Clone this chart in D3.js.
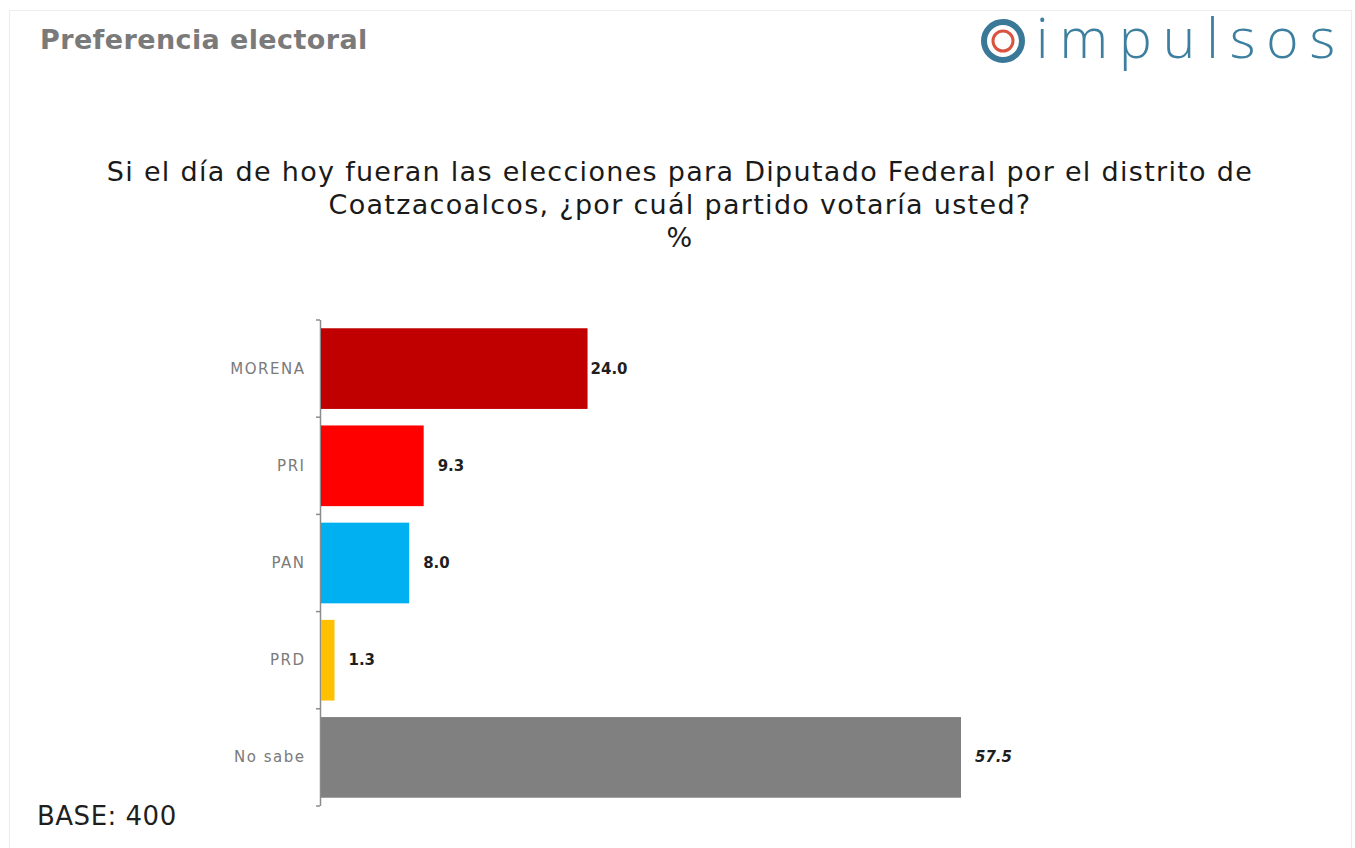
<!DOCTYPE html>
<html>
<head>
<meta charset="utf-8">
<script src="https://cdn.jsdelivr.net/npm/d3@7"></script>
<style>
  body { margin: 0; background: #ffffff; }
  svg { display: block; }
</style>
</head>
<body>
<div id="chart"></div>
<script>
// Data
const parties = ["MORENA", "PRI", "PAN", "PRD", "No sabe"];
const shares = [24.0, 9.3, 8.0, 1.3, 57.5];
const barColors = ["#c00000", "#ff0000", "#00b0f0", "#ffc000", "#808080"];
const questionLines = [
    "Si el día de hoy fueran las elecciones para Diputado Federal por el distrito de",
    "Coatzacoalcos, ¿por cuál partido votaría usted?",
    "%"
];

const data = parties.map((p, i) => ({ party: p, value: shares[i], color: barColors[i] }));

const width = 1355, height = 848;
const font = "'DejaVu Sans', sans-serif";

const svg = d3.select("#chart")
    .append("svg")
        .attr("width", width)
        .attr("height", height);

// slide frame
svg.append("rect")
    .attr("x", 9.5)
    .attr("y", 10.5)
    .attr("width", 1342)
    .attr("height", 850)
    .attr("fill", "#ffffff")
    .attr("stroke", "#ececec");

// header
svg.append("text")
    .text("Preferencia electoral")
    .attr("x", 40)
    .attr("y", 49)
    .style("font-family", font)
    .style("font-weight", "bold")
    .style("font-size", "27px")
    .style("letter-spacing", "0.4px")
    .style("fill", "#7a7a7a");

// logo
const logo = svg.append("g").attr("transform", "translate(1003, 41)");
logo.append("circle")
    .attr("r", 19)
    .attr("fill", "none")
    .attr("stroke", "#3a7898")
    .attr("stroke-width", 6);
logo.append("circle")
    .attr("r", 10)
    .attr("fill", "none")
    .attr("stroke", "#d9533f")
    .attr("stroke-width", 3);
svg.append("text")
    .text("impulsos")
    .attr("x", 1036)
    .attr("y", 58)
    .style("font-family", "'Open Sans', sans-serif")
    .style("font-weight", 300)
    .style("font-size", "55px")
    .style("letter-spacing", "11px")
    .style("fill", "#3d7f9f");

// question
svg.append("g")
    .selectAll("text")
    .data(questionLines)
    .join("text")
        .text(d => d)
        .attr("x", 680)
        .attr("y", (d, i) => 181 + i * 33)
        .attr("text-anchor", "middle")
        .style("font-family", font)
        .style("font-size", "27px")
        .style("letter-spacing", "1.3px")
        .style("fill", "#1a1a1a");

// scales
const xScale = d3.scaleLinear()
    .domain([0, 57.5])
    .range([320, 961]);

const yScale = d3.scaleBand()
    .domain(parties)
    .range([320, 806])
    .paddingInner(0.17)
    .paddingOuter(0.085);

// axis line with ticks at category boundaries
svg.append("line")
    .attr("x1", 320.5)
    .attr("x2", 320.5)
    .attr("y1", 320)
    .attr("y2", 806)
    .attr("stroke", "#8c8c8c")
    .attr("stroke-width", 1.5);

const bounds = parties.map(p => yScale(p) - yScale.step() * yScale.paddingOuter()).concat([806]);
svg.append("g")
    .selectAll("line")
    .data(bounds)
    .join("line")
        .attr("x1", 316)
        .attr("x2", 320)
        .attr("y1", d => d)
        .attr("y2", d => d)
        .attr("stroke", "#8c8c8c")
        .attr("stroke-width", 1.5);

const bar = svg.append("g")
    .selectAll("g")
    .data(data)
    .join("g")
    .attr("transform", d => `translate(0, ${yScale(d.party)})`);

// bars
bar.append("rect")
    .attr("x", xScale(0) + 1)
    .attr("y", 0)
    .attr("width", d => xScale(d.value) - xScale(0) - 1)
    .attr("height", yScale.bandwidth())
    .attr("fill", d => d.color);

// party labels
bar.append("text")
    .text(d => d.party)
    .attr("x", 305.5)
    .attr("y", yScale.bandwidth() / 2 + 5)
    .attr("text-anchor", "end")
    .style("font-family", font)
    .style("font-size", "15px")
    .style("letter-spacing", "1.5px")
    .style("fill", "#7a7a7a");

// value labels
bar.append("text")
    .text(d => d.value.toFixed(1))
    .attr("x", d => xScale(d.value) + (d.party === "MORENA" ? 3 : 14))
    .attr("y", yScale.bandwidth() / 2 + 5)
    .style("font-family", font)
    .style("font-weight", "bold")
    .style("font-style", d => d.party === "No sabe" ? "italic" : "normal")
    .style("font-size", "15px")
    .style("fill", "#1f1f1f");

// base note
svg.append("text")
    .text("BASE: 400")
    .attr("x", 37)
    .attr("y", 825)
    .style("font-family", font)
    .style("font-size", "26px")
    .style("letter-spacing", "0.5px")
    .style("fill", "#1f1f1f");
</script>
</body>
</html>
